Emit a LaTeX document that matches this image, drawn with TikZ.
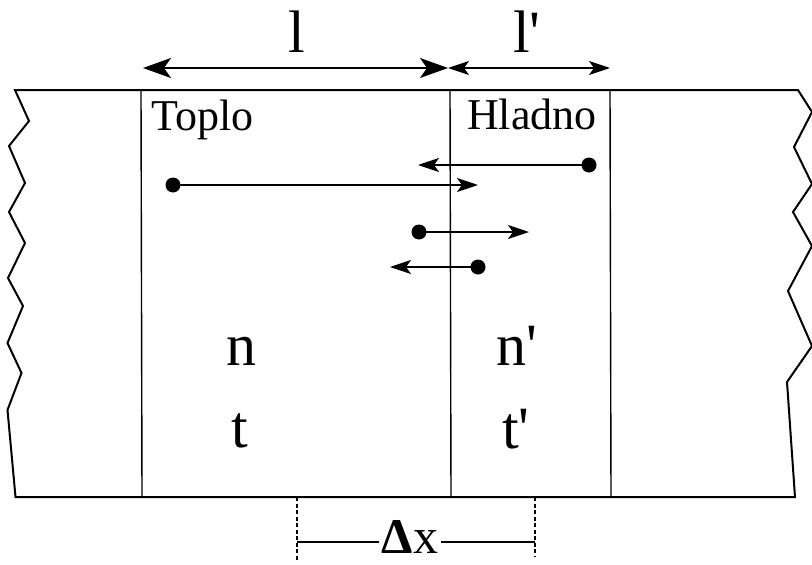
\documentclass[tikz,border=0pt]{standalone}
\usepackage{fontspec}
\newfontfamily\tfont{Liberation Serif}
\usetikzlibrary{arrows.meta}
\begin{document}
\begin{tikzpicture}[x=1pt,y=-1pt,
  edge/.style={line width=2pt, line join=miter},
  wall/.style={line width=1.4pt},
  bigtip/.tip={Stealth[length=28pt,width=20pt,inset=7pt]},
  smalltip/.tip={Stealth[length=21pt,width=14pt,inset=5pt]},
  bigdim/.style={line width=2pt, bigtip-bigtip},
  smalldim/.style={line width=1.6pt, smalltip-smalltip},
  move/.style={line width=1.5pt, -smalltip},
  dotnode/.style={circle, fill=black, inner sep=0pt, minimum size=15pt},
  lbl/.style={anchor=base west, inner sep=0pt, font=\tfont\fontsize{44}{44}\selectfont},
  biglbl/.style={anchor=base west, inner sep=0pt, font=\tfont\fontsize{60}{60}\selectfont},
  guide/.style={line width=1.3pt, dash pattern=on 4pt off 2.5pt},
  dimline/.style={line width=1.5pt}
]
\useasboundingbox (0,0) rectangle (812,565);
\clip (0,0) rectangle (812,565);
% outline: top, right zigzag, bottom, left zigzag
\draw[edge] (15,90) -- (798,90) -- (812,112) -- (794,147) -- (812,184) -- (793,212)
  -- (812,246) -- (788,291) -- (812,346) -- (787,382) -- (795,497) -- (15.5,497)
  -- (7.5,410) -- (21.5,373) -- (7.5,343) -- (23,306) -- (8,278) -- (25,243)
  -- (9,212) -- (25,183) -- (9,146) -- (29,121) -- cycle;
% inner walls
\draw[wall] (141,90) -- (142,497);
\draw[wall] (450,90) -- (451,497);
\draw[wall] (610,90) -- (611,497);
% top dimensions
\coordinate (a1) at (143,68);
\coordinate (a2) at (448,68);
\coordinate (a3) at (610,68);
\draw[bigdim] (a1) -- (a2);
\draw[smalldim] (a2) -- (a3);
\node[biglbl] (L1) at (288,52) {l};
\node[biglbl] (L2) at (513,52) {l'};
% labels
\node[lbl] (toplo) at (151,130) {Toplo};
\node[lbl] (hladno) at (467,129) {Hladno};
\node[biglbl] (n1) at (226,365) {n};
\node[biglbl] (t1) at (231,447) {t};
\node[biglbl] (n2) at (496,365) {n'};
\node[biglbl] (t2) at (502,448) {t'};
% moving particles
\node[dotnode] (p1) at (589,165) {};
\coordinate (e1) at (418,165);
\node[dotnode] (p2) at (173,185) {};
\coordinate (e2) at (478,185);
\node[dotnode] (p3) at (419,232) {};
\coordinate (e3) at (529,232);
\node[dotnode] (p4) at (478,267) {};
\coordinate (e4) at (390,267);
\draw[move] (p1.center) -- (e1);
\draw[move] (p2.center) -- (e2);
\draw[move] (p3.center) -- (e3);
\draw[move] (p4.center) -- (e4);
% delta x
\coordinate (g1) at (297,497);
\coordinate (g1b) at (297,560);
\coordinate (g2) at (535,497);
\coordinate (g2b) at (535,556);
\draw[guide] (g1) -- (g1b);
\draw[guide] (g2) -- (g2b);
\node[anchor=base, inner sep=0pt, text depth=0pt, font=\tfont\fontsize{50}{50}\selectfont] (dx) at (410,553) {\textbf{Δ}x};
\coordinate (h1) at (297,542);
\coordinate (h2) at (535,542);
\draw[dimline] (h1) -- ([xshift=-3pt]dx.west |- h1);
\draw[dimline] ([xshift=3pt]dx.east |- h2) -- (h2);
\end{tikzpicture}
\end{document}
